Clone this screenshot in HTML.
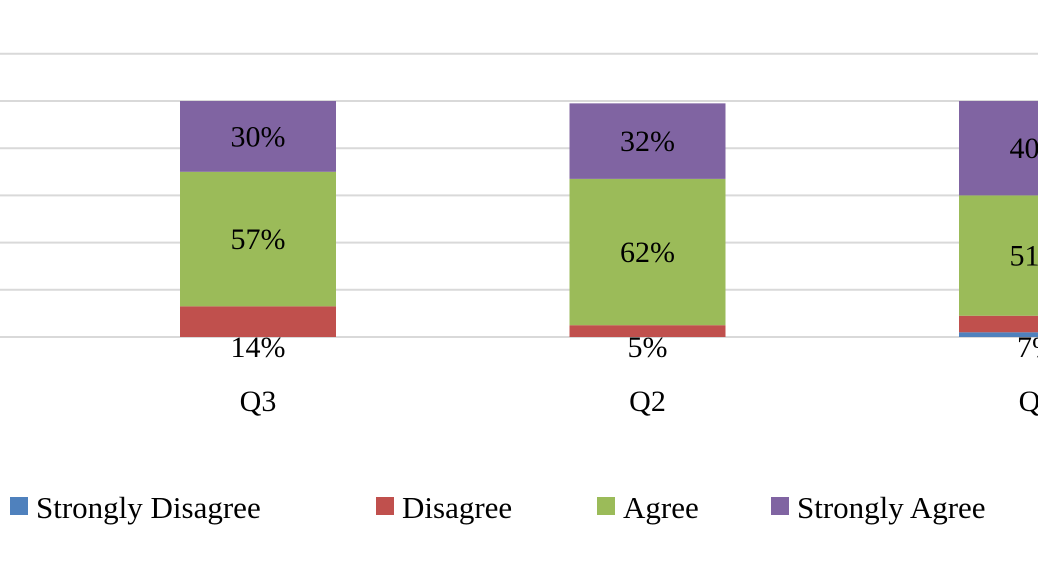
<!DOCTYPE html>
<html><head><meta charset="utf-8"><style>
body{margin:0;background:#fff;}
svg{display:block;font-family:"Liberation Serif",serif;}
</style></head><body>
<svg id="chart" width="1038" height="576"></svg>
<script>
const categories = ["Q3","Q2","Q1"];
const seriesNames = ["Strongly Disagree","Disagree","Agree","Strongly Agree"];
const stronglyDisagree = [0,0,2];
const disagree = [13,5,7];
const agree = [57,62,51];
const stronglyAgree = [30,32,40];
const valueLabels = [["","","2%"],["14%","5%","7%"],["57%","62%","51%"],["30%","32%","40%"]];
const gridTicks = [0,20,40,60,80,100,120];

const colors = ["#4f81bd","#c0504d","#9bbb59","#8064a2"];
const series = [stronglyDisagree, disagree, agree, stronglyAgree];
const svg = document.getElementById('chart');
const NS = "http://www.w3.org/2000/svg";
const baseY = 337, pxPer = 2.36;
const y = v => baseY - v * pxPer;
const xc = i => 258 + i * 389.5;
const barW = 156;
function mk(tag, attrs){const e=document.createElementNS(NS,tag);for(const k in attrs)e.setAttribute(k,attrs[k]);svg.appendChild(e);return e;}

gridTicks.forEach(t=>{
  const l = mk('line',{x1:0,x2:1038,y1:y(t),y2:y(t),stroke:'#d9d9d9','stroke-width':2});
  
  
});

categories.forEach((c,i)=>{
  let cum = 0;
  series.forEach((s,si)=>{
    const v = s[i];
    if(v>0){
      const r = mk('rect',{x:xc(i)-barW/2,y:y(cum+v),width:barW,height:v*pxPer,fill:colors[si]});
      
      
    }
    const lab = valueLabels[si][i];
    if(lab && si>=1){
      let ty;
      if(si===1) ty = baseY+20;
      else ty = y(cum+v/2)+10;
      const t = mk('text',{x:xc(i),y:ty,'text-anchor':'middle','font-size':30,fill:'#000'});
      t.textContent = lab;
      
      
    }
    cum += v;
  });
  const ct = mk('text',{x:xc(i),y:411,'text-anchor':'middle','font-size':30,fill:'#000'});
  ct.textContent = c;
  
  
});

const legendX = [10,376,597,771];
seriesNames.forEach((n,i)=>{
  const sq = mk('rect',{x:legendX[i],y:497,width:18,height:18,fill:colors[i]});
  
  
  const t = mk('text',{x:legendX[i]+26,y:518,'font-size':31,fill:'#000'});
  t.textContent = n;
  
  
});
</script>
</body></html>
